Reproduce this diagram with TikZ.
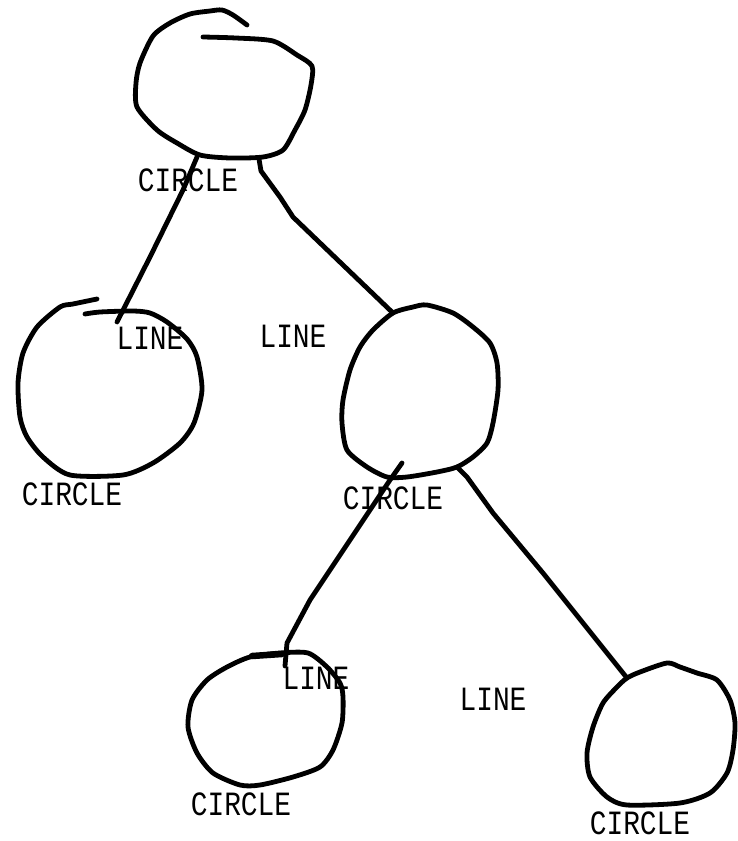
\documentclass[tikz,border=0pt]{standalone}
\usepackage{fontspec}
\newfontfamily\plotterfont[FakeStretch=0.82]{Liberation Mono}
\begin{document}
\begin{tikzpicture}[x=1pt,y=-1pt,
  pen/.style={line width=4.8pt, line cap=round, line join=round, black},
  tag/.style={inner sep=0pt, text=black, font=\plotterfont\fontsize{34}{34}\selectfont}]
\useasboundingbox (0,0) rectangle (737,841);

% --- hand-drawn circles ---
% root (left open at the top where the pen started)
\draw[pen] plot[smooth, tension=0.45] coordinates {
  (203,37) (236,38) (273,41) (297,55) (312,66) (311,85) (305,110) (295,130)
  (283,150) (263,157) (230,158) (200,155) (177,143) (157,130) (137,107)
  (136,83) (140,63) (153,36) (170,23) (190,14) (210,11) (222,10) (233,15) (247,25)};
% left child
\draw[pen] plot[smooth, tension=0.45] coordinates {
  (85,314) (100,312) (133,311) (150,313) (167,322) (187,339) (197,357)
  (202,390) (194,423) (180,443) (153,463) (123,475) (70,475) (43,457)
  (27,437) (20,417) (18,383) (23,353) (37,327) (60,307) (73,304) (97,299)};
% right child
\draw[pen] plot[smooth cycle, tension=0.45] coordinates {
  (393,313) (413,307) (427,305) (453,313) (473,327) (490,343) (497,363)
  (498,390) (493,423) (487,443) (473,457) (457,467) (437,472) (407,477)
  (387,477) (367,467) (347,450) (342,423) (343,400) (350,370) (360,347) (373,330)};
% lower left leaf
\draw[pen] plot[smooth cycle, tension=0.45] coordinates {
  (280,653) (308,653) (327,667) (340,683) (343,697) (342,723) (333,750)
  (320,767) (293,777) (260,785) (240,785) (213,773) (197,753) (188,727)
  (192,700) (207,680) (227,667) (250,657)};
\draw[pen, line width=6.5pt] (252,656) -- (282,654);
% lower right leaf
\draw[pen] plot[smooth cycle, tension=0.45] coordinates {
  (627,678) (640,672) (667,663) (680,667) (697,673) (717,680) (730,700)
  (735,723) (733,750) (727,773) (710,793) (680,803) (627,805) (607,797)
  (590,777) (587,753) (593,727) (603,703) (617,687)};

% --- connector end points ---
\coordinate (root-l) at (197,157);
\coordinate (root-r) at (259,159);
\coordinate (left-top) at (117,322);
\coordinate (right-top) at (393,313);
\coordinate (right-bl) at (402,463);
\coordinate (right-br) at (457,467);
\coordinate (leafl-top) at (285,666);
\coordinate (leafr-top) at (627,678);

% --- connectors ---
\draw[pen] (root-l) -- (183,190) -- (150,257) -- (left-top);
\draw[pen] (root-r) -- (261,171) -- (280,197) -- (293,217) -- (right-top);
\draw[pen] (right-bl) -- (390,480) -- (370,510) -- (310,600) -- (287,643) -- (leafl-top);
\draw[pen] (right-br) -- (467,477) -- (493,513) -- (543,573) -- (leafr-top);

% --- labels ---
\node[tag] (root-name)  at (188,180) {CIRCLE};
\node[tag] (left-name)  at (72,494)  {CIRCLE};
\node[tag] (right-name) at (393,498) {CIRCLE};
\node[tag] (leafl-name) at (241,804) {CIRCLE};
\node[tag] (leafr-name) at (640,823) {CIRCLE};
\node[tag] (edge-a) at (150,338) {LINE};
\node[tag] (edge-b) at (293,336) {LINE};
\node[tag] (edge-c) at (316,678) {LINE};
\node[tag] (edge-d) at (493,699) {LINE};
\end{tikzpicture}
\end{document}
